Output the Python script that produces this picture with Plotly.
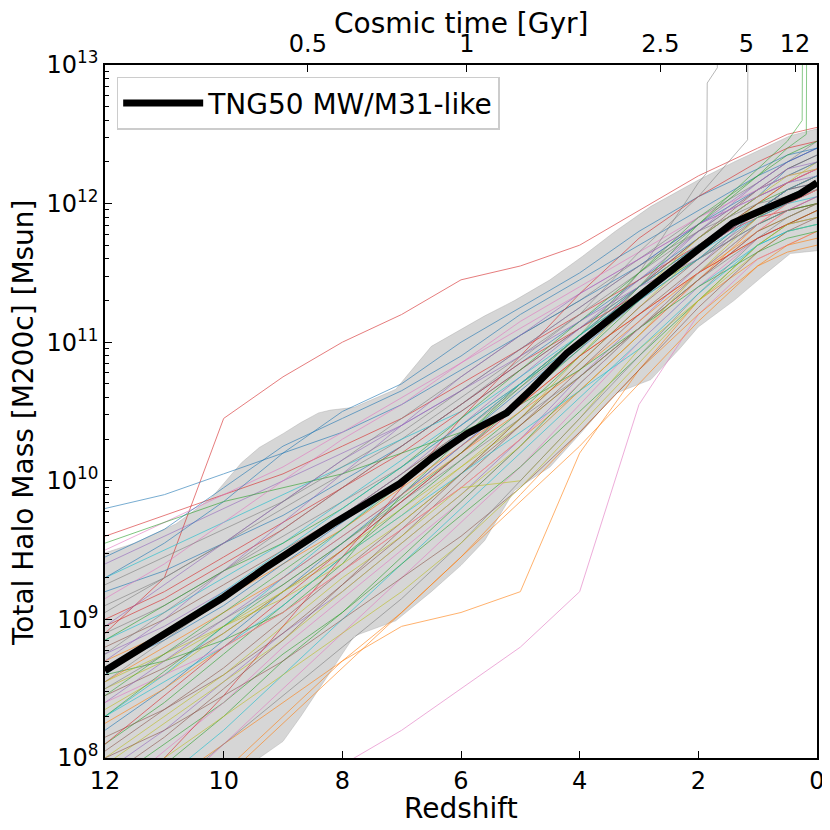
import plotly.graph_objects as go

# redshift grid of the individual halo tracks
track_z = [12, 11, 10, 9, 8, 7, 6, 5, 4, 3, 2, 1, 0.5, 0]

# log10 M200c [Msun] per halo
track_01 = [8.20, 8.50, 8.85, 9.20, 9.55, 9.90, 10.25, 10.60, 10.95, 11.30, 11.65, 11.95, 12.05, 12.15]
track_02 = [9.05, 9.30, 9.55, 9.80, 10.05, 10.30, 10.60, 10.90, 11.20, 11.50, 11.80, 12.10, 12.20, 12.30]
track_03 = [8.60, 8.70, 8.85, 9.05, 9.40, 9.90, 10.30, 10.70, 11.05, 11.35, 11.60, 11.85, 11.95, 12.00]
track_04 = [7.70, 8.05, 8.40, 8.80, 9.15, 9.50, 9.85, 10.25, 10.65, 11.05, 11.45, 11.80, 11.95, 12.05]
track_05 = [9.40, 9.60, 9.80, 10.00, 10.20, 10.40, 10.65, 10.95, 11.25, 11.55, 11.85, 12.15, 12.30, 12.40]
track_06 = [8.45, 8.65, 8.90, 9.20, 9.50, 9.85, 10.20, 10.60, 11.00, 11.40, 11.75, 12.05, 12.15, 12.25]
track_07 = [8.00, 8.30, 8.60, 8.95, 9.30, 9.60, 9.95, 10.00, 10.45, 10.95, 11.30, 11.65, 11.80, 11.85]
track_08 = [8.90, 9.10, 9.35, 9.60, 9.85, 10.10, 10.40, 10.70, 11.00, 11.30, 11.60, 11.90, 12.00, 12.10]
track_09 = [8.35, 8.60, 8.90, 9.20, 9.50, 9.80, 10.10, 10.45, 10.85, 11.25, 11.65, 12.00, 12.15, 12.30]
track_10 = [7.50, 7.85, 8.20, 8.60, 9.00, 9.40, 9.80, 10.20, 10.60, 11.00, 11.40, 11.70, 11.80, 11.85]
track_11 = [9.20, 9.35, 9.55, 9.75, 10.00, 10.25, 10.55, 10.85, 11.15, 11.45, 11.75, 12.05, 12.25, 12.35]
track_12 = [8.70, 8.90, 9.15, 9.40, 9.65, 9.95, 10.25, 10.55, 10.90, 11.20, 11.50, 11.80, 11.95, 12.05]
track_13 = [8.10, 8.40, 8.75, 9.10, 9.45, 9.80, 10.15, 10.50, 10.90, 11.30, 11.70, 12.00, 12.10, 12.20]
track_14 = [9.60, 9.75, 9.90, 10.05, 10.25, 10.45, 10.70, 10.95, 11.20, 11.45, 11.70, 11.90, 11.95, 12.00]
track_15 = [7.90, 8.20, 8.55, 8.90, 9.20, 9.55, 9.90, 10.30, 10.75, 11.15, 11.55, 11.95, 12.10, 12.20]
track_16 = [8.80, 9.00, 9.25, 9.50, 9.75, 10.05, 10.35, 10.70, 11.05, 11.40, 11.75, 12.10, 12.25, 12.35]
track_17 = [7.30, 7.70, 8.10, 8.50, 8.90, 9.30, 9.70, 10.10, 10.55, 11.00, 11.40, 11.75, 11.85, 11.90]
track_18 = [9.10, 9.30, 9.55, 9.85, 10.15, 10.45, 10.75, 11.05, 11.30, 11.60, 11.90, 12.15, 12.30, 12.45]
track_19 = [8.50, 8.70, 8.95, 9.20, 9.45, 9.75, 10.10, 10.40, 10.75, 11.10, 11.45, 11.80, 11.90, 12.00]
track_20 = [8.30, 8.60, 8.95, 9.30, 9.65, 10.00, 10.35, 10.70, 11.05, 11.40, 11.70, 11.95, 12.05, 12.15]
track_21 = [9.80, 9.90, 10.05, 10.20, 10.35, 10.55, 10.80, 11.05, 11.30, 11.55, 11.85, 12.10, 12.20, 12.30]
track_22 = [8.55, 8.80, 9.05, 9.30, 9.60, 9.90, 10.20, 10.50, 10.80, 11.15, 11.50, 11.75, 11.85, 11.95]
track_23 = [7.80, 8.10, 8.40, 8.75, 9.05, 9.40, 9.75, 10.10, 10.50, 10.90, 11.30, 11.70, 11.85, 11.95]
track_24 = [8.95, 9.15, 9.40, 9.65, 9.95, 10.25, 10.55, 10.85, 11.10, 11.40, 11.70, 12.00, 12.15, 12.25]
track_25 = [8.40, 8.70, 9.00, 9.30, 9.60, 9.90, 10.25, 10.60, 11.00, 11.40, 11.80, 12.10, 12.25, 12.30]
track_26 = [8.15, 8.35, 8.60, 8.90, 9.25, 9.60, 10.00, 10.40, 10.80, 11.20, 11.55, 11.90, 12.00, 12.10]
track_27 = [8.90, 9.30, 10.45, 10.75, 11.00, 11.20, 11.45, 11.55, 11.70, 11.95, 12.20, 12.40, 12.50, 12.55]
track_28 = [7.00, 7.20, 7.40, 7.70, 7.95, 8.20, 8.50, 8.80, 9.20, 10.55, 11.20, 11.60, 11.70, 11.80]
track_29 = [7.50, 7.80, 8.10, 8.40, 8.70, 8.95, 9.05, 9.20, 10.20, 10.80, 11.30, 11.60, 11.70, 11.75]
track_30 = [9.30, 9.50, 9.70, 9.90, 10.10, 10.30, 10.50, 10.80, 11.10, 11.40, 11.70, 11.95, 12.05, 12.15]
track_31 = [8.65, 8.85, 9.10, 9.40, 9.70, 10.00, 10.30, 10.65, 11.00, 11.35, 11.65, 11.95, 12.10, 12.15]
track_32 = [8.25, 8.50, 8.80, 9.05, 9.35, 9.65, 9.95, 10.30, 10.65, 11.05, 11.45, 11.85, 12.00, 12.10]
track_33 = [7.60, 7.95, 8.30, 8.70, 9.05, 9.45, 9.85, 10.25, 10.70, 11.10, 11.50, 11.85, 11.95, 12.00]
track_34 = [9.00, 9.20, 9.45, 9.70, 9.95, 10.20, 10.50, 10.80, 11.10, 11.35, 11.65, 11.95, 12.10, 12.20]
track_35 = [8.75, 8.95, 9.20, 9.45, 9.75, 10.05, 10.40, 10.75, 11.10, 11.45, 11.80, 12.15, 12.30, 12.40]
track_36 = [8.05, 8.35, 8.65, 9.00, 9.35, 9.70, 10.05, 10.40, 10.75, 11.10, 11.45, 11.80, 11.90, 12.00]
track_37 = [9.50, 9.70, 9.90, 10.10, 10.35, 10.60, 10.85, 11.10, 11.35, 11.60, 11.85, 12.05, 12.15, 12.25]
track_38 = [8.50, 8.75, 9.00, 9.25, 9.55, 9.85, 10.15, 10.45, 10.75, 11.10, 11.45, 11.75, 11.85, 11.90]
track_39 = [7.95, 8.25, 8.55, 8.85, 9.20, 9.55, 9.90, 10.25, 10.65, 11.05, 11.50, 11.90, 12.05, 12.15]
track_40 = [8.85, 9.05, 9.30, 9.55, 9.85, 10.15, 10.45, 10.75, 11.05, 11.35, 11.65, 11.90, 12.00, 12.05]
track_41 = [9.30, 9.55, 9.85, 10.20, 10.50, 10.70, 11.00, 11.25, 11.50, 11.80, 12.05, 12.25, 12.35, 12.40]
track_42 = [7.20, 7.55, 7.90, 8.30, 8.70, 9.05, 9.45, 9.90, 10.35, 10.80, 11.20, 11.55, 11.70, 11.80]
track_43 = [9.55, 9.70, 9.85, 9.95, 10.05, 10.20, 10.35, 10.55, 10.80, 11.10, 11.40, 11.65, 11.75, 11.80]
track_44 = [7.60, 8.00, 8.45, 8.95, 9.45, 9.95, 10.45, 10.90, 11.35, 11.75, 12.05, 12.30, 12.40, 12.45]
track_45 = [8.70, 9.00, 9.35, 9.70, 10.05, 10.40, 10.75, 11.05, 11.35, 11.60, 11.85, 12.05, 12.15, 12.20]
track_46 = [8.00, 8.20, 8.45, 8.70, 9.00, 9.30, 9.60, 9.95, 10.35, 10.80, 11.25, 11.65, 11.80, 11.90]
track_47 = [9.15, 9.40, 9.70, 10.00, 10.30, 10.55, 10.85, 11.15, 11.40, 11.65, 11.90, 12.10, 12.20, 12.25]
track_48 = [7.40, 7.75, 8.10, 8.45, 8.80, 9.15, 9.55, 10.00, 10.45, 10.90, 11.35, 11.75, 11.90, 12.00]
track_49 = [8.55, 8.75, 8.95, 9.15, 9.40, 9.70, 10.05, 10.45, 10.90, 11.35, 11.75, 12.05, 12.20, 12.25]
track_50 = [8.30, 8.55, 8.80, 9.10, 9.45, 9.75, 10.05, 10.35, 10.65, 10.95, 11.35, 11.70, 11.80, 11.85]
track_51 = [9.45, 9.65, 9.95, 10.25, 10.45, 10.65, 10.90, 11.20, 11.45, 11.70, 11.95, 12.20, 12.30, 12.40]
track_52 = [7.10, 7.45, 7.85, 8.25, 8.65, 9.05, 9.45, 9.85, 10.25, 10.70, 11.15, 11.55, 11.65, 11.70]
track_53 = [8.85, 9.10, 9.35, 9.55, 9.80, 10.10, 10.45, 10.80, 11.15, 11.50, 11.85, 12.20, 12.35, 12.45]
track_54 = [8.10, 8.45, 8.80, 9.15, 9.50, 9.85, 10.20, 10.55, 10.90, 11.20, 11.50, 11.75, 11.85, 11.95]
track_55 = [8.95, 9.25, 9.55, 9.85, 10.15, 10.40, 10.65, 10.90, 11.15, 11.40, 11.60, 11.85, 11.95, 12.05]
track_56 = [7.85, 8.15, 8.50, 8.85, 9.25, 9.65, 10.05, 10.45, 10.85, 11.25, 11.60, 11.95, 12.10, 12.15]
track_57 = [8.40, 8.60, 8.80, 9.05, 9.35, 9.65, 9.95, 10.30, 10.70, 11.10, 11.50, 11.85, 12.00, 12.10]
track_58 = [9.25, 9.45, 9.65, 9.85, 10.10, 10.35, 10.65, 10.95, 11.25, 11.55, 11.80, 12.00, 12.05, 12.10]
track_59 = [7.70, 8.00, 8.30, 8.60, 8.90, 9.20, 9.55, 9.95, 10.40, 10.85, 11.30, 11.70, 11.85, 11.90]
track_60 = [8.60, 8.90, 9.20, 9.50, 9.80, 10.10, 10.40, 10.70, 11.00, 11.30, 11.60, 11.95, 12.10, 12.20]

# halos that get swallowed by a bigger host (mass jumps off the top)
jump_a_z = [12, 10, 8, 6, 4, 3, 2.0, 1.86, 1.85, 1.80, 1.68, 1.67]
jump_a_m = [8.55, 9.15, 9.75, 10.35, 11.00, 11.50, 12.15, 12.22, 12.87, 12.90, 12.98, 13.6]
jump_b_z = [12, 10, 8, 6, 4, 3, 2, 1.5, 1.17, 1.16]
jump_b_m = [8.75, 9.35, 9.95, 10.55, 11.20, 11.65, 12.05, 12.30, 12.46, 13.6]
jump_c_z = [12, 10, 8, 6, 4, 3, 2, 1, 0.5, 0.25, 0.24]
jump_c_m = [8.30, 8.95, 9.55, 10.20, 10.95, 11.40, 11.85, 12.25, 12.45, 12.60, 13.6]
jump_d_z = [12, 10, 8, 6, 4, 3, 2, 1, 0.5, 0.18, 0.17]
jump_d_m = [8.45, 9.05, 9.65, 10.30, 11.05, 11.50, 11.90, 12.20, 12.40, 12.50, 13.6]

# scatter band around the sample
band_z = [12, 11.5, 10.8, 10.2, 9.7, 9.4, 9.0, 8.7, 8.4, 8.2, 7.8, 7.1, 6.5, 6.0, 5.6, 5.1,
          4.5, 3.95, 3.4, 2.8, 2.3, 2.0, 1.4, 0.85, 0.45, 0]
band_hi = [9.48, 9.55, 9.69, 9.88, 10.13, 10.24, 10.34, 10.42, 10.49, 10.51, 10.53, 10.66, 10.97, 11.09, 11.19, 11.30,
           11.45, 11.62, 11.80, 11.98, 12.10, 12.17, 12.30, 12.41, 12.49, 12.54]
band_lo = [7.20, 7.35, 7.55, 7.75, 7.90, 8.00, 8.12, 8.30, 8.49, 8.62, 8.88, 8.99, 9.20, 9.39, 9.57, 9.93,
           10.10, 10.36, 10.63, 10.73, 10.96, 11.11, 11.30, 11.50, 11.64, 11.66]

# median track
median_z = [12, 10, 9.27, 8.16, 7.03, 6.48, 5.90, 5.23, 4.79, 4.22, 3.66, 3.10, 2.53, 1.97, 1.42, 0.84, 0.29, 0]
median_m = [8.63, 9.16, 9.38, 9.69, 9.98, 10.17, 10.34, 10.49, 10.67, 10.92, 11.11, 11.30, 11.50, 11.68, 11.86, 11.97, 12.07, 12.15]

# top axis: cosmic time labels and where they sit in redshift
time_labels = ["0.5", "1", "2.5", "5", "12"]
time_label_z = [8.58, 5.90, 2.64, 1.19, 0.37]

tab10 = ['#1f77b4', '#ff7f0e', '#2ca02c', '#d62728', '#9467bd',
         '#8c564b', '#e377c2', '#7f7f7f', '#bcbd22', '#17becf']

tracks = [track_01, track_29, track_03, track_27, track_05, track_06, track_28, track_08,
          track_09, track_10, track_11, track_12, track_13, track_14, track_15, track_16,
          track_17, track_18, track_19, track_20, track_21, track_22, track_23, track_24,
          track_25, track_26, track_04, track_02, track_07, track_30, track_31, track_32,
          track_33, track_34, track_35, track_36, track_37, track_38, track_39, track_40,
          track_41, track_42, track_43, track_44, track_45, track_46, track_47, track_48,
          track_49, track_50, track_51, track_52, track_53, track_54, track_55, track_56,
          track_57, track_58, track_59, track_60]

font = "DejaVu Sans"
fig = go.Figure()

# band
fig.add_trace(go.Scatter(
    x=band_z + band_z[::-1],
    y=[10 ** v for v in band_hi] + [10 ** v for v in band_lo[::-1]],
    fill='toself', fillcolor='rgba(200,200,200,0.75)',
    line=dict(color='rgba(160,160,160,0.6)', width=0.6),
    mode='lines', showlegend=False, hoverinfo='skip'))

for i, t in enumerate(tracks):
    fig.add_trace(go.Scatter(
        x=track_z, y=[10 ** v for v in t], mode='lines',
        line=dict(color=tab10[i % 10], width=1), opacity=0.6,
        showlegend=False, hoverinfo='skip'))

jumps = [(jump_a_z, jump_a_m, '#7f7f7f'), (jump_b_z, jump_b_m, '#7f7f7f'),
         (jump_c_z, jump_c_m, '#2ca02c'), (jump_d_z, jump_d_m, '#2ca02c')]
for zz, mm, c in jumps:
    fig.add_trace(go.Scatter(
        x=zz, y=[10 ** v for v in mm], mode='lines',
        line=dict(color=c, width=1), opacity=0.55,
        showlegend=False, hoverinfo='skip'))

fig.add_trace(go.Scatter(
    x=median_z, y=[10 ** v for v in median_m], mode='lines',
    line=dict(color='black', width=7), name='TNG50 MW/M31-like'))

# dummy trace so the top axis is drawn
fig.add_trace(go.Scatter(x=[12, 0], y=[1e8, 1e8], xaxis='x2', mode='markers',
                         marker=dict(opacity=0), showlegend=False, hoverinfo='skip'))

minor_vals = [m * 10 ** k for k in range(8, 13) for m in range(2, 10)]

# the page body adds an 8px offset, so the figure is a bit smaller than the window
W = 822
ml, mr, mt, mb = 97, 13, 57, 72
pw = W - ml - mr
ph = W - mt - mb

fig.update_layout(
    width=W, height=W,
    margin=dict(l=ml, r=mr, t=mt, b=mb),
    paper_bgcolor='white', plot_bgcolor='white',
    font=dict(family=font, size=24, color='black'),
    xaxis=dict(
        range=[12, 0], tickvals=[12, 10, 8, 6, 4, 2, 0], automargin=False,
        ticks='inside', ticklen=7, tickwidth=1.2, tickcolor='black',
        showline=True, linecolor='black', linewidth=1.5,
        showgrid=False, zeroline=False,
        tickfont=dict(size=24)),
    xaxis2=dict(
        overlaying='x', side='top', range=[12, 0], automargin=False,
        tickmode='array', tickvals=time_label_z, ticktext=time_labels,
        ticks='inside', ticklen=7, tickwidth=1.2, tickcolor='black',
        ticklabelstandoff=2,
        showline=True, linecolor='black', linewidth=1.5,
        showgrid=False, zeroline=False,
        tickfont=dict(size=24)),
    yaxis=dict(
        type='log', range=[8, 13], automargin=False,
        tickmode='array', tickvals=[10 ** k for k in range(8, 14)],
        ticktext=['10<sup>%d</sup>' % k for k in range(8, 14)],
        ticks='inside', ticklen=7, tickwidth=1.2, tickcolor='black',
        minor=dict(tickmode='array', tickvals=minor_vals, ticks='inside',
                   ticklen=4, tickwidth=1, tickcolor='black', showgrid=False),
        showline=True, linecolor='black', linewidth=1.5, mirror=True,
        showgrid=False, zeroline=False,
        tickfont=dict(size=24)),
    legend=dict(
        x=0.0164, y=0.983, xanchor='left', yanchor='top',
        bgcolor='white', bordercolor='#cccccc', borderwidth=1.5,
        font=dict(size=28), itemwidth=80),
)

# axis titles as annotations so they sit where the reference has them
fig.add_annotation(text='Redshift', xref='paper', yref='paper',
                   x=0.5, y=-(800 - (W - mb)) / ph, yanchor='middle',
                   showarrow=False, font=dict(size=28))
fig.add_annotation(text='Cosmic time [Gyr]', xref='paper', yref='paper',
                   x=0.5, y=1 + (mt - 15) / ph, yanchor='middle',
                   showarrow=False, font=dict(size=28))
fig.add_annotation(text='Total Halo Mass [M200c] [Msun]', xref='paper', yref='paper',
                   x=(15 - ml) / pw, y=1 - (415 - mt) / ph, textangle=-90,
                   xanchor='center', yanchor='middle',
                   showarrow=False, font=dict(size=28))

fig.write_html("out.html")
